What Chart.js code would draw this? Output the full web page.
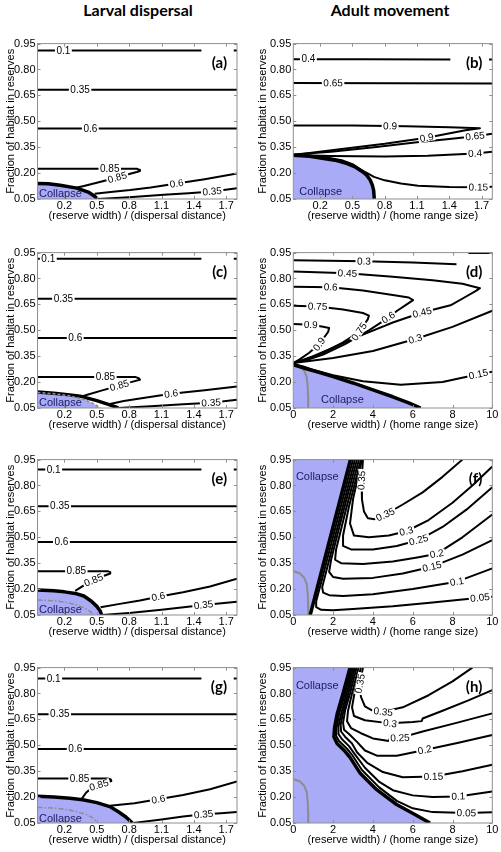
<!DOCTYPE html>
<html>
<head>
<meta charset="utf-8">
<script src="https://cdn.jsdelivr.net/npm/chart.js@4.4.1/dist/chart.umd.min.js"></script>
<style>
  body { margin: 0; background: #fff; width: 501px; height: 852px; position: relative; overflow: hidden; }
  .head { position: absolute; top: 0px; width: 250px; text-align: center; font: bold 16px Lato, "Open Sans", sans-serif; color: #000; }
  canvas { position: absolute; }
</style>
</head>
<body>
<div class="head" style="left:13px">Larval dispersal</div>
<div class="head" style="left:265px">Adult movement</div>
<script>
const FONT = '"Liberation Sans", Arial, sans-serif';
const SHADE = '#aaabf6';
const GREY = '#8c8c8c';

// tick labels
const xLarval = [0.2, 0.5, 0.8, 1.1, 1.4, 1.7];
const xAdult = [0, 2, 4, 6, 8, 10];
const yTicks = [0.05, 0.2, 0.35, 0.5, 0.65, 0.8, 0.95];

// contour lines: [level, label anchors, points]
const linesA = [
  ['0.1', [[0.19, 0.91]], [[-0.05, 0.91], [1.47, 0.91]]],
  ['', [], [[1.77, 0.91], [1.8, 0.91]]],
  ['0.35', [[0.345, 0.683]], [[-0.05, 0.683], [1.8, 0.683]]],
  ['0.6', [[0.44, 0.458]], [[-0.05, 0.458], [1.8, 0.458]]],
  ['0.85', [[0.62, 0.225], [0.69, 0.175]], [[-0.05, 0.225], [0.87, 0.225], [0.895, 0.219], [0.9, 0.212], [0.87, 0.206], [0.81, 0.196], [0.69, 0.175], [0.5, 0.144], [0.38, 0.125], [0.3, 0.114]]],
  ['0.6', [[1.24, 0.14]], [[0.48, 0.08], [0.65, 0.092], [0.81, 0.102], [1.0, 0.117], [1.24, 0.14], [1.5, 0.165], [1.8, 0.198]]],
  ['0.35', [[1.57, 0.094]], [[0.51, 0.05], [0.8, 0.06], [1.12, 0.074], [1.35, 0.083], [1.57, 0.094], [1.8, 0.112]]]
];
const edgeA = [[-0.05, 0.14], [0.05, 0.138], [0.16, 0.13], [0.315, 0.113], [0.42, 0.09], [0.48, 0.066], [0.505, 0.05]];

const linesB = [
  ['0.4', [[0.09, 0.86]], [[-0.05, 0.86], [0.6, 0.86], [1.41, 0.858]]],
  ['', [], [[1.77, 0.858], [1.8, 0.858]]],
  ['0.65', [[0.32, 0.722]], [[-0.05, 0.722], [1.8, 0.719]]],
  ['0.9', [[0.85, 0.472], [1.19, 0.405]], [[-0.05, 0.476], [0.5, 0.475], [1.0, 0.471], [1.4, 0.466], [1.685, 0.46], [1.55, 0.448], [1.19, 0.405], [0.8, 0.37], [0.4, 0.34], [0.1, 0.317], [-0.05, 0.307]]],
  ['0.65', [[1.64, 0.414]], [[-0.05, 0.307], [0.3, 0.323], [0.7, 0.35], [1.1, 0.378], [1.4, 0.398], [1.64, 0.414], [1.8, 0.428]]],
  ['0.4', [[1.64, 0.314]], [[-0.05, 0.305], [0.3, 0.299], [0.8, 0.296], [1.2, 0.3], [1.64, 0.314], [1.8, 0.324]]],
  ['0.15', [[1.67, 0.118]], [[-0.05, 0.305], [0.2, 0.298], [0.4, 0.275], [0.5, 0.252], [0.56, 0.228], [0.62, 0.205], [0.7, 0.178], [0.8, 0.158], [0.95, 0.14], [1.11, 0.127], [1.4, 0.119], [1.67, 0.118], [1.8, 0.121]]]
];
const edgeB = [[-0.05, 0.303], [0.1, 0.297], [0.337, 0.275], [0.45, 0.255], [0.523, 0.236], [0.6, 0.205], [0.632, 0.188], [0.665, 0.16], [0.685, 0.13], [0.697, 0.1], [0.703, 0.05]];

const linesC = [
  ['0.1', [[0.05, 0.915]], [[-0.05, 0.915], [1.47, 0.915]]],
  ['', [], [[1.77, 0.915], [1.8, 0.915]]],
  ['0.35', [[0.19, 0.683]], [[-0.05, 0.683], [1.8, 0.683]]],
  ['0.6', [[0.3, 0.456]], [[-0.05, 0.456], [1.8, 0.456]]],
  ['0.85', [[0.58, 0.229], [0.71, 0.178]], [[-0.05, 0.229], [0.86, 0.229], [0.89, 0.222], [0.9, 0.214], [0.86, 0.207], [0.8, 0.197], [0.71, 0.18], [0.55, 0.152], [0.42, 0.128], [0.36, 0.117]]],
  ['0.6', [[1.19, 0.133]], [[0.6, 0.07], [0.75, 0.09], [0.9, 0.105], [1.19, 0.133], [1.5, 0.153], [1.8, 0.175]]],
  ['0.35', [[1.56, 0.081]], [[0.7, 0.05], [1.0, 0.06], [1.3, 0.072], [1.56, 0.081], [1.8, 0.098]]]
];
const edgeC = [[-0.05, 0.142], [0.1, 0.136], [0.25, 0.126], [0.36, 0.116], [0.5, 0.093], [0.62, 0.068], [0.7, 0.05]];
const shadeC = [[-0.05, 0.14], [0.1, 0.133], [0.25, 0.12], [0.38, 0.1], [0.47, 0.075], [0.53, 0.05]];

const linesD = [
  ['', [], [[8.8, 0.947], [10, 0.947]]],
  ['0.3', [[3.55, 0.9]], [[0, 0.906], [3.55, 0.9], [6, 0.893], [8.2, 0.883]]],
  ['0.45', [[2.72, 0.83], [6.47, 0.603]], [[0, 0.84], [2.72, 0.83], [5, 0.81], [7, 0.79], [8.5, 0.77], [9.38, 0.744], [9.2, 0.73], [8.6, 0.69], [7.9, 0.645], [6.47, 0.603], [5, 0.545], [3.5, 0.475], [2, 0.4], [1, 0.35], [0.4, 0.325], [0, 0.31]]],
  ['0.6', [[1.88, 0.75], [4.8, 0.57]], [[0, 0.752], [1.88, 0.75], [3.5, 0.73], [5, 0.705], [5.8, 0.69], [6.02, 0.675], [5.7, 0.65], [5.22, 0.613], [4.8, 0.575], [3.8, 0.5], [2.6, 0.42], [1.5, 0.36], [0.6, 0.325], [0, 0.31]]],
  ['0.75', [[1.22, 0.638], [3.3, 0.493]], [[0, 0.642], [1.22, 0.638], [2.5, 0.62], [3.5, 0.6], [3.8, 0.585], [3.75, 0.565], [3.3, 0.49], [2.5, 0.43], [1.5, 0.37], [0.6, 0.33], [0, 0.31]]],
  ['0.9', [[0.88, 0.532], [1.3, 0.42]], [[0, 0.536], [0.88, 0.532], [1.5, 0.52], [1.8, 0.513], [1.75, 0.49], [1.3, 0.42], [0.8, 0.37], [0.3, 0.33], [0, 0.31]]],
  ['0.3', [[6.13, 0.45]], [[0, 0.31], [1, 0.325], [2, 0.34], [4, 0.38], [6.13, 0.45], [8, 0.52], [10, 0.613]]],
  ['0.15', [[9.3, 0.245]], [[0, 0.305], [0.5, 0.29], [1, 0.27], [2, 0.24], [3.5, 0.205], [5.4, 0.185], [7.5, 0.2], [9.3, 0.245], [10, 0.26]]]
];
const edgeD = [[0, 0.3], [0.3, 0.29], [0.7, 0.276], [1.2, 0.26], [2, 0.232], [3, 0.195], [4, 0.155], [5, 0.115], [5.8, 0.08], [6.4, 0.05]];

const linesE = [
  ['0.1', [[0.1, 0.892]], [[-0.05, 0.892], [1.47, 0.892]]],
  ['', [], [[1.77, 0.892], [1.8, 0.892]]],
  ['0.35', [[0.157, 0.68]], [[-0.05, 0.68], [1.8, 0.68]]],
  ['0.6', [[0.172, 0.473]], [[-0.05, 0.473], [1.8, 0.473]]],
  ['0.85', [[0.31, 0.304], [0.47, 0.252]], [[-0.05, 0.304], [0.6, 0.304], [0.625, 0.298], [0.625, 0.29], [0.58, 0.28], [0.47, 0.252], [0.38, 0.222], [0.3, 0.19]]],
  ['0.6', [[1.07, 0.156]], [[0.535, 0.095], [0.7, 0.113], [0.9, 0.134], [1.07, 0.156], [1.3, 0.182], [1.55, 0.215], [1.8, 0.26]]],
  ['0.35', [[1.49, 0.108]], [[0.55, 0.05], [0.8, 0.062], [1.1, 0.08], [1.49, 0.108], [1.8, 0.127]]]
];
const edgeE = [[-0.05, 0.195], [0.1, 0.19], [0.2, 0.184], [0.3, 0.175], [0.38, 0.16], [0.45, 0.13], [0.5, 0.1], [0.53, 0.075], [0.545, 0.05]];
const dashE = [[-0.05, 0.137], [0.1, 0.133], [0.2, 0.125], [0.3, 0.11], [0.38, 0.092], [0.44, 0.07], [0.47, 0.05]];

const linesF = [
  ['0.05', [[9.38, 0.15]], [[3.0, 0.95], [2.0, 0.505], [1.45, 0.26], [1.15, 0.13], [1.15, 0.095], [1.4, 0.08], [2, 0.078], [3, 0.085], [5, 0.1], [7, 0.122], [9.38, 0.15], [10, 0.156]]],
  ['0.1', [[8.22, 0.243]], [[3.1, 0.95], [2.2, 0.55], [1.65, 0.3], [1.45, 0.21], [1.5, 0.18], [1.8, 0.165], [2.5, 0.16], [4, 0.17], [6, 0.2], [8.22, 0.243], [10, 0.32]]],
  ['0.15', [[6.97, 0.33]], [[3.2, 0.95], [2.4, 0.6], [1.9, 0.37], [1.8, 0.3], [2, 0.27], [2.5, 0.26], [4, 0.265], [5.5, 0.29], [6.97, 0.33], [8.5, 0.4], [10, 0.484]]],
  ['0.2', [[7.22, 0.4]], [[3.3, 0.95], [2.6, 0.64], [2.15, 0.43], [2.1, 0.37], [2.4, 0.35], [3.5, 0.345], [5, 0.36], [6.3, 0.385], [7.22, 0.405], [8.5, 0.5], [10, 0.632]]],
  ['0.25', [[6.3, 0.484]], [[3.4, 0.95], [2.8, 0.68], [2.5, 0.51], [2.5, 0.45], [2.9, 0.43], [4, 0.43], [5.2, 0.45], [6.3, 0.484], [7.5, 0.56], [8.7, 0.66], [10, 0.79]]],
  ['0.3', [[5.68, 0.535]], [[3.45, 0.95], [3.0, 0.72], [2.85, 0.58], [3.05, 0.51], [3.8, 0.5], [4.8, 0.51], [5.68, 0.535], [6.8, 0.6], [8, 0.7], [9, 0.8], [10, 0.91]]],
  ['0.35', [[3.43, 0.83], [4.63, 0.632]], [[3.5, 0.95], [3.43, 0.83], [3.45, 0.72], [3.55, 0.65], [3.75, 0.61], [4.1, 0.605], [4.63, 0.632], [5.5, 0.69], [6.5, 0.76], [7.5, 0.85], [8.5, 0.95]]]
];
const edgeF = [[0.85, 0.05], [2.87, 0.95]];
const shadeF = [[0, 0.05], [0.85, 0.05], [2.87, 0.95]];

const linesG = [
  ['0.1', [[0.1, 0.887]], [[-0.05, 0.887], [1.47, 0.887]]],
  ['', [], [[1.77, 0.887], [1.8, 0.887]]],
  ['0.35', [[0.157, 0.68]], [[-0.05, 0.68], [1.8, 0.68]]],
  ['0.6', [[0.3, 0.479]], [[-0.05, 0.479], [1.8, 0.479]]],
  ['0.85', [[0.34, 0.308], [0.52, 0.27]], [[-0.05, 0.308], [0.6, 0.308], [0.63, 0.302], [0.635, 0.293], [0.6, 0.285], [0.52, 0.27], [0.45, 0.252], [0.4, 0.225], [0.36, 0.19]]],
  ['0.6', [[1.07, 0.187]], [[0.62, 0.15], [0.85, 0.165], [1.07, 0.187], [1.3, 0.212], [1.55, 0.245], [1.8, 0.29]]],
  ['0.35', [[1.49, 0.1]], [[0.84, 0.05], [1.1, 0.07], [1.3, 0.088], [1.49, 0.1], [1.65, 0.107], [1.8, 0.113]]]
];
const edgeG = [[-0.05, 0.205], [0.1, 0.2], [0.25, 0.193], [0.37, 0.185], [0.5, 0.168], [0.62, 0.145], [0.7, 0.115], [0.77, 0.085], [0.83, 0.05]];
const dashG = [[-0.05, 0.14], [0.1, 0.137], [0.2, 0.13], [0.3, 0.118], [0.4, 0.1], [0.47, 0.078], [0.51, 0.05]];

const linesH = [
  ['0.05', [[8.7, 0.108]], [[2.95, 0.95], [2.6, 0.8], [2.3, 0.68], [2.17, 0.6], [2.15, 0.555], [2.3, 0.525], [2.7, 0.48], [2.95, 0.445], [3.45, 0.357], [4.3, 0.258], [5.2, 0.178], [6, 0.135], [7, 0.113], [8.7, 0.108], [10, 0.112]]],
  ['0.1', [[8.29, 0.204]], [[3.02, 0.95], [2.68, 0.8], [2.4, 0.68], [2.27, 0.61], [2.27, 0.565], [2.45, 0.535], [2.8, 0.495], [3.05, 0.455], [3.6, 0.37], [4.3, 0.29], [5, 0.24], [6, 0.21], [7, 0.2], [8.29, 0.204], [10, 0.233]]],
  ['0.15', [[7.04, 0.319]], [[3.1, 0.95], [2.76, 0.8], [2.5, 0.69], [2.38, 0.62], [2.4, 0.58], [2.6, 0.55], [2.95, 0.51], [3.2, 0.46], [3.7, 0.4], [4.5, 0.345], [5.5, 0.315], [7.04, 0.319], [8.5, 0.35], [10, 0.387]]],
  ['0.2', [[6.6, 0.473]], [[3.18, 0.95], [2.85, 0.8], [2.6, 0.7], [2.5, 0.63], [2.55, 0.59], [2.8, 0.565], [3.2, 0.52], [3.6, 0.47], [4.2, 0.44], [5.2, 0.44], [6.6, 0.473], [8.3, 0.515], [10, 0.56]]],
  ['0.25', [[5.36, 0.543]], [[3.28, 0.95], [2.95, 0.8], [2.75, 0.7], [2.7, 0.64], [2.9, 0.6], [3.4, 0.57], [4, 0.54], [4.8, 0.525], [4.85, 0.54], [5.36, 0.543], [6.5, 0.58], [8.2, 0.63], [10, 0.685]]],
  ['0.3', [[4.86, 0.627]], [[3.4, 0.95], [3.1, 0.82], [2.95, 0.72], [3.05, 0.67], [3.6, 0.645], [4.86, 0.627], [6, 0.635], [6.45, 0.64], [6.5, 0.655], [7.5, 0.7], [8.8, 0.76], [10, 0.82]]],
  ['0.35', [[3.35, 0.858], [4.52, 0.694]], [[3.5, 0.95], [3.35, 0.858], [3.4, 0.78], [3.6, 0.725], [4, 0.7], [4.52, 0.694], [5.5, 0.72], [6.8, 0.79], [8, 0.87], [9, 0.95]]]
];
const edgeH = [[2.85, 0.95], [2.5, 0.8], [2.2, 0.68], [2.07, 0.6], [2.04, 0.55], [2.2, 0.51], [2.6, 0.465], [2.85, 0.43], [3.35, 0.34], [4.19, 0.243], [5.19, 0.157], [6.2, 0.093], [6.87, 0.05]];

// grey curve of the no-movement case
const homeArc = [[0, 0.305], [0.35, 0.29], [0.55, 0.265], [0.67, 0.23], [0.72, 0.18], [0.74, 0.12], [0.75, 0.05]];

const rowTop = [35, 244, 451, 659];

const panels = [
  {id: 'a', col: 0, row: 0, lines: linesA, edge: edgeA, shade: edgeA, fill: 'start', ctext: [-0.036, 0.08]},
  {id: 'b', col: 1, row: 0, lines: linesB, edge: edgeB, shade: edgeB, fill: 'start', ctext: [0.005, 0.092], larvalAxis: true},
  {id: 'c', col: 0, row: 1, lines: linesC, edge: edgeC, shade: shadeC, fill: 'start', ctext: [-0.036, 0.08], shadeLine: true},
  {id: 'd', col: 1, row: 1, lines: linesD, edge: edgeD, shade: edgeD, fill: 'start', ctext: [1.39, 0.098], grey: homeArc},
  {id: 'e', col: 0, row: 2, lines: linesE, edge: edgeE, shade: edgeE, fill: 'start', ctext: [-0.036, 0.079], dash: dashE},
  {id: 'f', col: 1, row: 2, lines: linesF, edge: edgeF, shade: shadeF, fill: 'end', ctext: [0.13, 0.848], grey: homeArc},
  {id: 'g', col: 0, row: 3, lines: linesG, edge: edgeG, shade: edgeG, fill: 'start', ctext: [-0.036, 0.071], dash: dashG},
  {id: 'h', col: 1, row: 3, lines: linesH, edge: edgeH, shade: edgeH, fill: 'split', ctext: [0.13, 0.846], grey: homeArc}
];

function pts(a) { return a.map(p => ({x: p[0], y: p[1]})); }
function line(a, w, c, dash) {
  return {data: pts(a), showLine: true, pointRadius: 0, borderColor: c, borderWidth: w,
    borderDash: dash || [], fill: false, tension: 0, borderJoinStyle: 'round'};
}
function area(a, side) {
  return {data: pts(a), showLine: true, pointRadius: 0, borderWidth: 0, borderColor: 'rgba(0,0,0,0)',
    backgroundColor: SHADE, fill: side, tension: 0};
}

function makeDecor(p) {
  return {
    id: 'decor_' + p.id,
    afterDatasetsDraw(chart) {
      const ctx = chart.ctx, a = chart.chartArea;
      const sx = chart.scales.x, sy = chart.scales.y;
      const X = v => sx.getPixelForValue(v), Y = v => sy.getPixelForValue(v);
      ctx.save();
      ctx.beginPath();
      ctx.rect(a.left, a.top, a.right - a.left, a.bottom - a.top);
      ctx.clip();
      // inline contour labels, turned along the line they sit on
      ctx.font = '10px ' + FONT;
      ctx.textAlign = 'center';
      ctx.textBaseline = 'middle';
      p.lines.forEach(([lv, labs, pl]) => {
        labs.forEach(([lx, ly]) => {
          const px = X(lx), py = Y(ly);
          let best = Infinity, bx = px, by = py, ang = 0;
          for (let i = 0; i < pl.length - 1; i++) {
            const x1 = X(pl[i][0]), y1 = Y(pl[i][1]), x2 = X(pl[i + 1][0]), y2 = Y(pl[i + 1][1]);
            const dx = x2 - x1, dy = y2 - y1, L = dx * dx + dy * dy || 1;
            let t = ((px - x1) * dx + (py - y1) * dy) / L;
            t = Math.max(0, Math.min(1, t));
            const qx = x1 + t * dx, qy = y1 + t * dy, d = (qx - px) ** 2 + (qy - py) ** 2;
            if (d < best) { best = d; bx = qx; by = qy; ang = Math.atan2(dy, dx); }
          }
          if (ang > Math.PI / 2) ang -= Math.PI;
          if (ang < -Math.PI / 2) ang += Math.PI;
          const w = ctx.measureText(lv).width + 3;
          ctx.save();
          ctx.translate(bx, by);
          ctx.rotate(ang);
          ctx.fillStyle = '#fff';
          ctx.fillRect(-w / 2, -4, w, 8);
          ctx.fillStyle = '#000';
          ctx.fillText(lv, 0, 0.5);
          ctx.restore();
        });
      });
      ctx.font = '11px ' + FONT;
      ctx.fillStyle = '#1b1b5e';
      ctx.textAlign = 'left';
      ctx.fillText('Collapse', X(p.ctext[0]), Y(p.ctext[1]));
      ctx.restore();

      ctx.save();
      ctx.font = 'bold 15px Lato, "Open Sans", sans-serif';
      ctx.fillStyle = '#000';
      ctx.textAlign = 'right';
      ctx.textBaseline = 'middle';
      ctx.fillText('(' + p.id + ')', a.right - 10, a.top + 19.5);
      // axes box with inward ticks
      ctx.strokeStyle = '#8f8f8f';
      ctx.lineWidth = 1;
      ctx.strokeRect(a.left, a.top, a.right - a.left, a.bottom - a.top);
      ctx.beginPath();
      sx.ticks.forEach(t => {
        const px = Math.round(X(t.value)) + 0.5;
        ctx.moveTo(px, a.bottom); ctx.lineTo(px, a.bottom - 3);
        ctx.moveTo(px, a.top); ctx.lineTo(px, a.top + 3);
      });
      sy.ticks.forEach(t => {
        const py = Math.round(Y(t.value)) + 0.5;
        ctx.moveTo(a.left, py); ctx.lineTo(a.left + 3, py);
        ctx.moveTo(a.right, py); ctx.lineTo(a.right - 3, py);
      });
      ctx.stroke();
      ctx.restore();
    }
  };
}

panels.forEach(p => {
  const ds = [];
  if (p.fill === 'split') {
    // shaded region left of a bulging boundary: fill above the upper arm and below the lower arm,
    // the two pieces overlap a little left of the tip so no seam shows
    let k = 0;
    p.edge.forEach((q, i) => { if (q[0] < p.edge[k][0]) k = i; });
    const tip = p.edge[k];
    const upper = [[0, tip[1] - 0.04]].concat(p.edge.slice(0, k + 1).reverse());
    const lower = [[0, tip[1] + 0.04]].concat(p.edge.slice(k));
    ds.push(area(upper, 'end'));
    ds.push(area(lower, 'start'));
  } else {
    ds.push(area(p.shade, p.fill));
  }
  if (p.grey) ds.push(line(p.grey, 2, GREY));
  if (p.dash) ds.push(line(p.dash, 1.5, GREY, [5, 2, 1.5, 2]));
  p.lines.forEach(l => ds.push(line(l[2], 2, '#000')));
  ds.push(line(p.edge, 3.5, '#000'));
  if (p.shadeLine) ds.push(line(p.shade, 1.6, GREY, [3, 2]));
  // Chart.js paints the first dataset on top, so hand them over back to front
  ds.reverse();

  const adult = p.col === 1 && !p.larvalAxis;
  const cv = document.createElement('canvas');
  const w = p.col ? 251 : 250;
  cv.width = w; cv.height = 188;
  cv.style.left = (p.col ? 250 : 0) + 'px';
  cv.style.top = rowTop[p.row] + 'px';
  cv.style.width = w + 'px';
  cv.style.height = '188px';
  document.body.appendChild(cv);

  new Chart(cv, {
    type: 'scatter',
    data: {datasets: ds},
    options: {
      responsive: false,
      animation: false,
      devicePixelRatio: 1,
      layout: {padding: {left: p.col ? 2 : 0, right: p.col ? 8.7 : 13, top: 8, bottom: 0}},
      plugins: {legend: {display: false}, tooltip: {enabled: false}},
      scales: {
        x: {
          type: 'linear',
          min: adult ? 0 : -0.05,
          max: adult ? 10 : 1.8,
          afterBuildTicks: s => { s.ticks = (adult ? xAdult : xLarval).map(v => ({value: v})); },
          ticks: {font: {size: 11, family: FONT}, color: '#000', padding: 0, maxRotation: 0, autoSkip: false,
            callback: v => adult ? String(v) : v.toFixed(1)},
          grid: {display: false, drawTicks: false},
          border: {display: false},
          title: {display: true, text: p.col ? '(reserve width) / (home range size)' : '(reserve width) / (dispersal distance)',
            font: {size: 11, family: FONT}, color: '#000', padding: 0},
          afterFit: s => { s.height = 24; }
        },
        y: {
          type: 'linear',
          min: 0.05,
          max: 0.95,
          afterBuildTicks: s => { s.ticks = yTicks.map(v => ({value: v})); },
          ticks: {font: {size: 11, family: FONT}, color: '#000', padding: 2, autoSkip: false,
            callback: v => v.toFixed(2)},
          grid: {display: false, drawTicks: false},
          border: {display: false},
          title: {display: true, text: 'Fraction of habitat in reserves',
            font: {size: 11, family: FONT}, color: '#000', padding: {top: 4, bottom: 0}},
          afterFit: s => { s.width = p.col ? 41.3 : 37.5; }
        }
      }
    },
    plugins: [makeDecor(p)]
  });
});
</script>
</body>
</html>
